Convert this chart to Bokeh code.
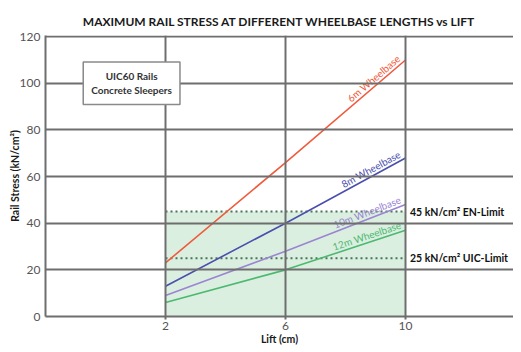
import math
from bokeh.plotting import figure
from bokeh.models import FixedTicker, Range1d, Label
from bokeh.core.properties import value
from bokeh.embed import file_html
from bokeh.resources import INLINE

# ---- data ----
lift = [2, 6, 10]
stress_6m = [23, 66, 110]
stress_8m = [13, 40, 68]
stress_10m = [9, 28, 48]
stress_12m = [6, 20, 37]
series_names = ["6m Wheelbase", "8m Wheelbase", "10m Wheelbase", "12m Wheelbase"]
series_colors = ["#ef5b3c", "#4b4fae", "#9b84d2", "#4fb870"]
en_limit = 45
uic_limit = 25
limit_labels = ["45 kN/cm\u00b2 EN-Limit", "25 kN/cm\u00b2 UIC-Limit"]
x_ticks = [2, 6, 10]
y_ticks = [0, 20, 40, 60, 80, 100, 120]
box_text = "UIC60 Rails\nConcrete Sleepers"

FW, FH = 468, 281
BL, BR, BT, BB = 45, 0, 35, 31
x0, x1 = -2, -2 + FW / 30.0
y0, y1 = 0, 120.5

p = figure(frame_width=FW, frame_height=FH, output_backend="svg", toolbar_location=None,
           x_range=Range1d(x0, x1), y_range=Range1d(y0, y1),
           min_border_left=BL, min_border_right=BR, min_border_top=BT, min_border_bottom=BB,
           title="MAXIMUM RAIL STRESS AT DIFFERENT WHEELBASE LENGTHS vs LIFT")
p.outline_line_color = None
p.background_fill_color = "white"
p.border_fill_color = "white"

p.title.text_font = "Lato"
p.title.text_font_size = "12px"
p.title.text_font_style = "bold"
p.title.text_color = "#1a1a1a"
p.title.align = "center"
p.title.standoff = 14

GRID = "#6e6e6e"
p.xaxis.ticker = FixedTicker(ticks=x_ticks)
p.yaxis.ticker = FixedTicker(ticks=y_ticks)
for ax in (p.xaxis[0], p.yaxis[0]):
    ax.axis_line_color = GRID
    ax.axis_line_width = 2
    ax.major_tick_line_color = GRID
    ax.major_tick_line_width = 2
    ax.minor_tick_line_color = None
    ax.major_tick_in = 0
    ax.major_label_text_font = "Lato"
    ax.major_label_text_font_size = "12px"
    ax.major_label_text_color = "#555555"
    ax.axis_label_text_font = "Lato"
    ax.axis_label_text_font_size = "10.5px"
    ax.axis_label_text_font_style = "bold"
    ax.axis_label_text_color = "#1a1a1a"
p.xaxis.major_tick_out = 3
p.yaxis.major_tick_out = 0
p.xaxis.major_label_standoff = 2
p.yaxis.major_label_standoff = 5
p.xaxis.axis_label = "Lift (cm)"
p.yaxis.axis_label = "Rail Stress (kN/cm\u00b2)"
p.xaxis.axis_label_standoff = 0
p.yaxis.axis_label_standoff = -4

p.xgrid.ticker = FixedTicker(ticks=[2, 6, 10, 14])
p.ygrid.ticker = FixedTicker(ticks=y_ticks)
for g in (p.xgrid[0], p.ygrid[0]):
    g.grid_line_color = GRID
    g.grid_line_width = 2
    g.level = "glyph"

# shaded acceptable zone
p.quad(left=[lift[0]], right=[lift[-1]], bottom=[0], top=[en_limit],
       fill_color="#d3ecdb", fill_alpha=0.85, line_color=None, level="underlay")

# limit lines
for lim in (en_limit, uic_limit):
    p.line([lift[0], lift[-1]], [lim, lim], line_color="#4a7558",
           line_width=2, line_dash="2 3")

# series
all_series = [stress_6m, stress_8m, stress_10m, stress_12m]
for ys, c in zip(all_series, series_colors):
    p.line(lift, ys, line_color=c, line_width=1.6)

# line labels along each series
sx = FW / (x1 - x0)
sy = FH / (y1 - y0)
lx = 9.9
for ys, name, c in zip(all_series, series_names, series_colors):
    slope = (ys[-1] - ys[1]) / (lift[-1] - lift[1])
    ly = ys[1] + slope * (lx - lift[1])
    ang = math.atan2(slope * sy, sx)
    p.text(x=[lx], y=[ly], text=[name], angle=ang, text_align="right",
           text_baseline="bottom", text_color=c, text_font=value("Lato"),
           text_font_size="10px", y_offset=-1)

# limit labels
for lim, lab in zip((en_limit, uic_limit), limit_labels):
    p.text(x=[lift[-1] + 0.15], y=[lim], text=[lab], text_align="left",
           text_baseline="middle", text_color="#111111", text_font=value("Lato"),
           text_font_style="bold", text_font_size="10.5px")

# info box
p.add_layout(Label(x=0.87, y=100, text=box_text, text_align="center",
                   text_baseline="middle", text_font="Lato", text_font_style="bold",
                   text_font_size="10px", text_color="#333333",
                   background_fill_color="white", border_line_color="#8a8a8a",
                   border_line_width=1.5, padding=8))

open("out.html", "w").write(file_html(p, INLINE))
